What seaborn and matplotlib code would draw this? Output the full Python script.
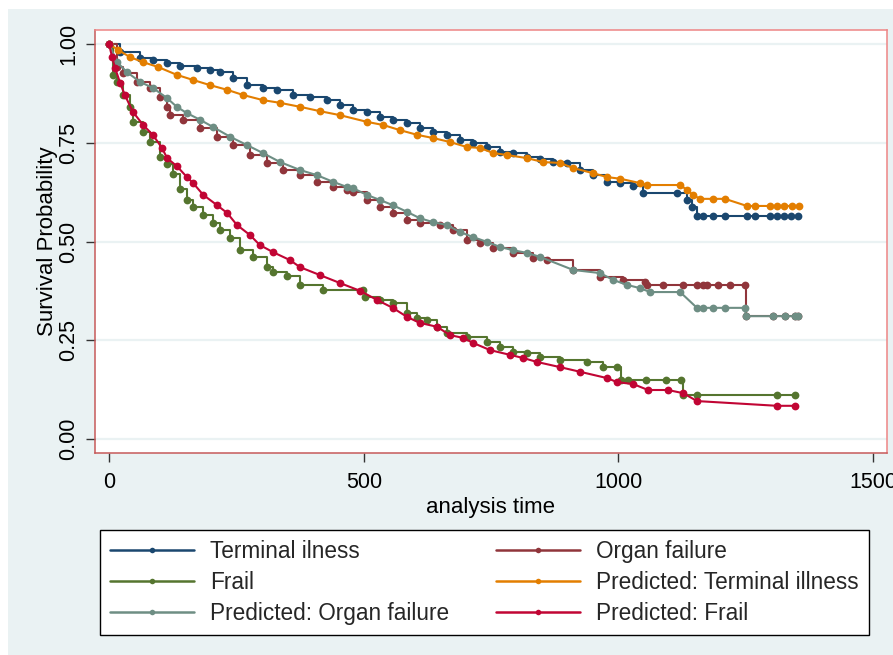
import matplotlib
matplotlib.use("Agg")
import matplotlib.pyplot as plt
from matplotlib.patches import Rectangle
from matplotlib.lines import Line2D
import seaborn as sns
import pandas as pd

# ---- Kaplan-Meier estimates (observed) ----
term_t = [0, 22, 61, 86, 114, 139, 173, 198, 218, 243, 271, 302, 330, 361, 395, 428,
          453, 479, 506, 532, 557, 585, 610, 636, 663, 689, 715, 742, 768, 793, 821,
          846, 872, 899, 925, 950, 978, 1003, 1029, 1048, 1115, 1135, 1144, 1154,
          1166, 1186, 1209, 1252, 1268, 1297, 1311, 1325, 1338, 1352]
term_s = [1.0, 0.980, 0.965, 0.959, 0.952, 0.944, 0.939, 0.934, 0.929, 0.914, 0.896,
          0.889, 0.884, 0.871, 0.866, 0.858, 0.846, 0.833, 0.828, 0.815, 0.808, 0.800,
          0.787, 0.777, 0.770, 0.757, 0.749, 0.739, 0.727, 0.724, 0.714, 0.709, 0.701,
          0.699, 0.681, 0.668, 0.651, 0.648, 0.641, 0.623, 0.623, 0.605, 0.587, 0.565,
          0.565, 0.565, 0.565, 0.565, 0.565, 0.565, 0.565, 0.565, 0.565, 0.565]

organ_t = [0, 16, 27, 55, 80, 100, 114, 120, 145, 179, 212, 243, 277, 310, 342, 375,
           408, 440, 467, 479, 506, 532, 557, 585, 610, 650, 675, 703, 728, 754, 793,
           832, 860, 911, 964, 1009, 1052, 1056, 1088, 1127, 1154, 1166, 1174, 1195,
           1219, 1248, 1250, 1303, 1327, 1346, 1352]
organ_s = [1.0, 0.942, 0.927, 0.904, 0.889, 0.866, 0.841, 0.820, 0.808, 0.787, 0.765,
           0.744, 0.719, 0.699, 0.681, 0.668, 0.651, 0.638, 0.630, 0.625, 0.605, 0.587,
           0.572, 0.554, 0.547, 0.542, 0.529, 0.504, 0.496, 0.484, 0.471, 0.458, 0.453,
           0.428, 0.410, 0.403, 0.397, 0.390, 0.390, 0.390, 0.390, 0.390, 0.390, 0.390,
           0.390, 0.390, 0.311, 0.311, 0.311, 0.311, 0.311]

frail_t = [0, 8, 16, 27, 41, 47, 67, 80, 100, 114, 126, 139, 153, 165, 185, 204, 218,
           238, 257, 283, 310, 322, 349, 375, 420, 499, 503, 532, 557, 585, 605, 624,
           644, 663, 703, 742, 768, 793, 821, 846, 885, 938, 970, 997, 1005, 1019,
           1054, 1093, 1123, 1127, 1154, 1311, 1346]
frail_s = [1.0, 0.922, 0.904, 0.871, 0.841, 0.803, 0.777, 0.752, 0.714, 0.696, 0.671,
           0.633, 0.605, 0.587, 0.567, 0.547, 0.529, 0.509, 0.478, 0.461, 0.435, 0.423,
           0.413, 0.390, 0.377, 0.377, 0.359, 0.352, 0.344, 0.319, 0.306, 0.301, 0.284,
           0.268, 0.258, 0.246, 0.233, 0.220, 0.218, 0.208, 0.200, 0.195, 0.182, 0.182,
           0.149, 0.149, 0.149, 0.149, 0.149, 0.111, 0.111, 0.111, 0.111]

# ---- Model-predicted survival ----
pterm_t = [0, 18, 41, 67, 96, 133, 165, 198, 232, 263, 302, 336, 375, 414, 453, 506,
           538, 571, 605, 636, 669, 703, 728, 754, 781, 821, 852, 885, 911, 950, 978,
           1003, 1042, 1056, 1121, 1135, 1146, 1160, 1186, 1209, 1252, 1268, 1297,
           1311, 1325, 1340, 1355]
pterm_s = [1.0, 0.985, 0.967, 0.954, 0.942, 0.922, 0.909, 0.896, 0.884, 0.871, 0.858,
           0.851, 0.841, 0.830, 0.820, 0.803, 0.795, 0.782, 0.770, 0.762, 0.752, 0.739,
           0.737, 0.724, 0.719, 0.711, 0.701, 0.699, 0.686, 0.673, 0.663, 0.659, 0.648,
           0.643, 0.643, 0.630, 0.618, 0.608, 0.608, 0.608, 0.590, 0.590, 0.590, 0.590,
           0.590, 0.590, 0.590]

porgan_t = [0, 16, 35, 61, 86, 114, 133, 153, 179, 204, 238, 271, 302, 336, 375, 408,
            440, 467, 479, 506, 532, 557, 585, 610, 636, 663, 689, 715, 742, 768, 793,
            821, 846, 911, 964, 989, 1017, 1042, 1062, 1121, 1154, 1166, 1186, 1209,
            1248, 1250, 1303, 1327, 1346, 1352]
porgan_s = [1.0, 0.954, 0.929, 0.904, 0.889, 0.863, 0.841, 0.825, 0.808, 0.790, 0.765,
            0.744, 0.724, 0.701, 0.681, 0.668, 0.651, 0.638, 0.635, 0.618, 0.605, 0.592,
            0.575, 0.559, 0.549, 0.542, 0.524, 0.511, 0.499, 0.486, 0.478, 0.471, 0.461,
            0.428, 0.420, 0.403, 0.390, 0.382, 0.372, 0.372, 0.332, 0.332, 0.332, 0.332,
            0.332, 0.311, 0.311, 0.311, 0.311, 0.311]

pfrail_t = [0, 6, 12, 22, 31, 47, 67, 86, 104, 114, 133, 153, 165, 185, 212, 232, 251,
            277, 296, 322, 355, 375, 414, 453, 493, 526, 557, 585, 610, 644, 669, 695,
            715, 748, 787, 813, 840, 885, 925, 978, 997, 1029, 1058, 1097, 1127, 1154,
            1311, 1346]
pfrail_s = [1.0, 0.967, 0.939, 0.901, 0.871, 0.828, 0.795, 0.770, 0.737, 0.711, 0.691,
            0.663, 0.648, 0.618, 0.592, 0.572, 0.542, 0.516, 0.491, 0.473, 0.453, 0.435,
            0.415, 0.395, 0.375, 0.352, 0.332, 0.309, 0.294, 0.284, 0.263, 0.256, 0.243,
            0.225, 0.213, 0.205, 0.195, 0.182, 0.170, 0.154, 0.144, 0.139, 0.124, 0.124,
            0.116, 0.096, 0.084, 0.084]

y_ticks = [0.0, 0.25, 0.5, 0.75, 1.0]
y_ticklabels = ["0.00", "0.25", "0.50", "0.75", "1.00"]
x_ticks = [0, 500, 1000, 1500]
x_ticklabels = ["0", "500", "1000", "1500"]

# (label, times, survival, colour, step?)
series = [
    ("Terminal ilness", term_t, term_s, "#1A476F", True),
    ("Organ failure", organ_t, organ_s, "#90353B", True),
    ("Frail", frail_t, frail_s, "#55752F", True),
    ("Predicted: Terminal illness", pterm_t, pterm_s, "#E37E00", False),
    ("Predicted: Organ failure", porgan_t, porgan_s, "#6E8E84", False),
    ("Predicted: Frail", pfrail_t, pfrail_s, "#C10534", False),
]

sns.set_theme(style="white")
plt.rcParams["font.family"] = ["Liberation Sans", "DejaVu Sans"]

BG = "#EAF2F3"
fig = plt.figure(figsize=(8.93, 6.55), dpi=100, facecolor="white")
fig.patches.append(Rectangle((8 / 893, 0), 1, 1 - 9 / 655, transform=fig.transFigure,
                             facecolor=BG, edgecolor="none", zorder=-10))

ax = fig.add_axes([95 / 893, 1 - 453 / 655, (887 - 95) / 893, (453 - 30) / 655])
ax.set_facecolor("white")

for label, t, s, color, step in series:
    df = pd.DataFrame({"time": t, "surv": s})
    sns.lineplot(data=df, x="time", y="surv", ax=ax, color=color, estimator=None,
                 sort=False, marker="o", markersize=5.6, markeredgewidth=0,
                 linewidth=1.5, drawstyle="steps-post" if step else "default",
                 legend=False)

ax.set_xlim(-27.5, 1527)
ax.set_ylim(-0.0355, 1.0355)

ax.set_yticks(y_ticks)
ax.set_yticklabels(y_ticklabels, rotation=90, va="center")
ax.set_xticks(x_ticks)
ax.set_xticklabels(x_ticklabels)
ax.tick_params(axis="both", which="major", direction="out", length=6.5, width=1.0,
               color="#333333", labelsize=15.5, labelcolor="black", pad=5)
ax.tick_params(axis="x", pad=7)
ax.tick_params(left=True, bottom=True)

ax.yaxis.grid(True, color=BG, linewidth=1.6)
ax.xaxis.grid(False)
ax.set_axisbelow(True)

for side in ["left", "bottom"]:
    ax.spines[side].set_color("#C65A5A")
for side in ["top", "right"]:
    ax.spines[side].set_color("#EE8585")
for sp in ax.spines.values():
    sp.set_linewidth(1.1)

ax.set_xlabel("analysis time", fontsize=16, labelpad=3, color="black")
ax.set_ylabel("Survival Probability", fontsize=16, labelpad=0, color="black")

# Legend: two columns, reading row by row
handles = {lab: Line2D([], [], color=c, linewidth=1.8, marker="o", markersize=4,
                       markeredgewidth=0) for lab, _, _, c, _ in series}
order = ["Terminal ilness", "Frail", "Predicted: Organ failure",
         "Organ failure", "Predicted: Terminal illness", "Predicted: Frail"]
leg = fig.legend([handles[k] for k in order], order, ncol=2, loc="upper left",
                 bbox_to_anchor=(100 / 893, 1 - 530 / 655),
                 borderaxespad=0, fontsize=16.3, frameon=True,
                 fancybox=False, handlelength=3.7, handletextpad=0.7,
                 labelspacing=0.35, borderpad=0.45, columnspacing=2.1, numpoints=1)
leg.get_frame().set_edgecolor("black")
leg.get_frame().set_linewidth(1.0)
leg.get_frame().set_facecolor("white")
leg.get_frame().set_alpha(1)

fig.savefig("out.png", dpi=100, facecolor=fig.get_facecolor())
